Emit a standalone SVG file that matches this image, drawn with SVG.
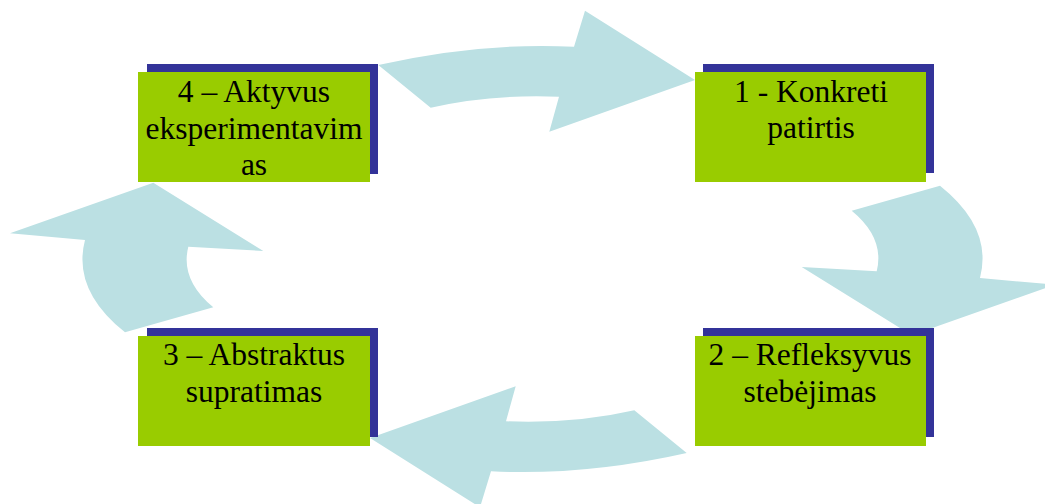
<svg xmlns="http://www.w3.org/2000/svg" width="1045" height="504" viewBox="0 0 1045 504">
<style>
.arrow{fill:#BBE0E3;stroke:none}
.shadow{fill:#333399}
.box{fill:#99CC00}
.lbl{font-family:'Liberation Serif','Times New Roman',serif;font-size:31.5px;fill:#000;text-anchor:middle}
</style>
<rect width="1045" height="504" fill="#fff"/>
<g id="connectors">
<path id="arrow-top" class="arrow" d="M378.3,65 Q480,42 574,46.7 L585,10.7 L695,80 L549.3,131.7 L559,96.7 Q490,94 430.7,107.7 Z"/>
<path id="arrow-bottom" class="arrow" transform="rotate(180 532.5 259)" d="M378.3,65 Q480,42 574,46.7 L585,10.7 L695,80 L549.3,131.7 L559,96.7 Q490,94 430.7,107.7 Z"/>
<path id="arrow-left" class="arrow" d="M153.3,182.7 L263.3,251 L188.3,246.7 Q180,280 213.3,307.3 L125,332.3 Q72,290 85,240 L10,233.3 Z"/>
<path id="arrow-right" class="arrow" transform="rotate(180 532.5 259)" d="M153.3,182.7 L263.3,251 L188.3,246.7 Q180,280 213.3,307.3 L125,332.3 Q72,290 85,240 L10,233.3 Z"/>
</g>
<g id="node4">
<rect class="shadow" x="147" y="64" width="231" height="110"/>
<rect class="box" x="138" y="72" width="232" height="110"/>
<text class="lbl" x="254" y="102">4 – Aktyvus</text>
<text class="lbl" x="254" y="139">eksperimentavim</text>
<text class="lbl" x="254" y="175">as</text>
</g>
<g id="node1">
<rect class="shadow" x="703" y="64" width="231" height="109"/>
<rect class="box" x="695" y="72" width="231" height="110"/>
<text class="lbl" x="811" y="102">1 - Konkreti</text>
<text class="lbl" x="811" y="138">patirtis</text>
</g>
<g id="node3">
<rect class="shadow" x="147" y="328" width="231" height="109"/>
<rect class="box" x="138" y="336" width="232" height="110"/>
<text class="lbl" x="254" y="365">3 – Abstraktus</text>
<text class="lbl" x="254" y="402">supratimas</text>
</g>
<g id="node2">
<rect class="shadow" x="703" y="328" width="231" height="109"/>
<rect class="box" x="695" y="336" width="231" height="110"/>
<text class="lbl" x="810" y="365">2 – Refleksyvus</text>
<text class="lbl" x="810" y="402">stebėjimas</text>
</g>
</svg>
